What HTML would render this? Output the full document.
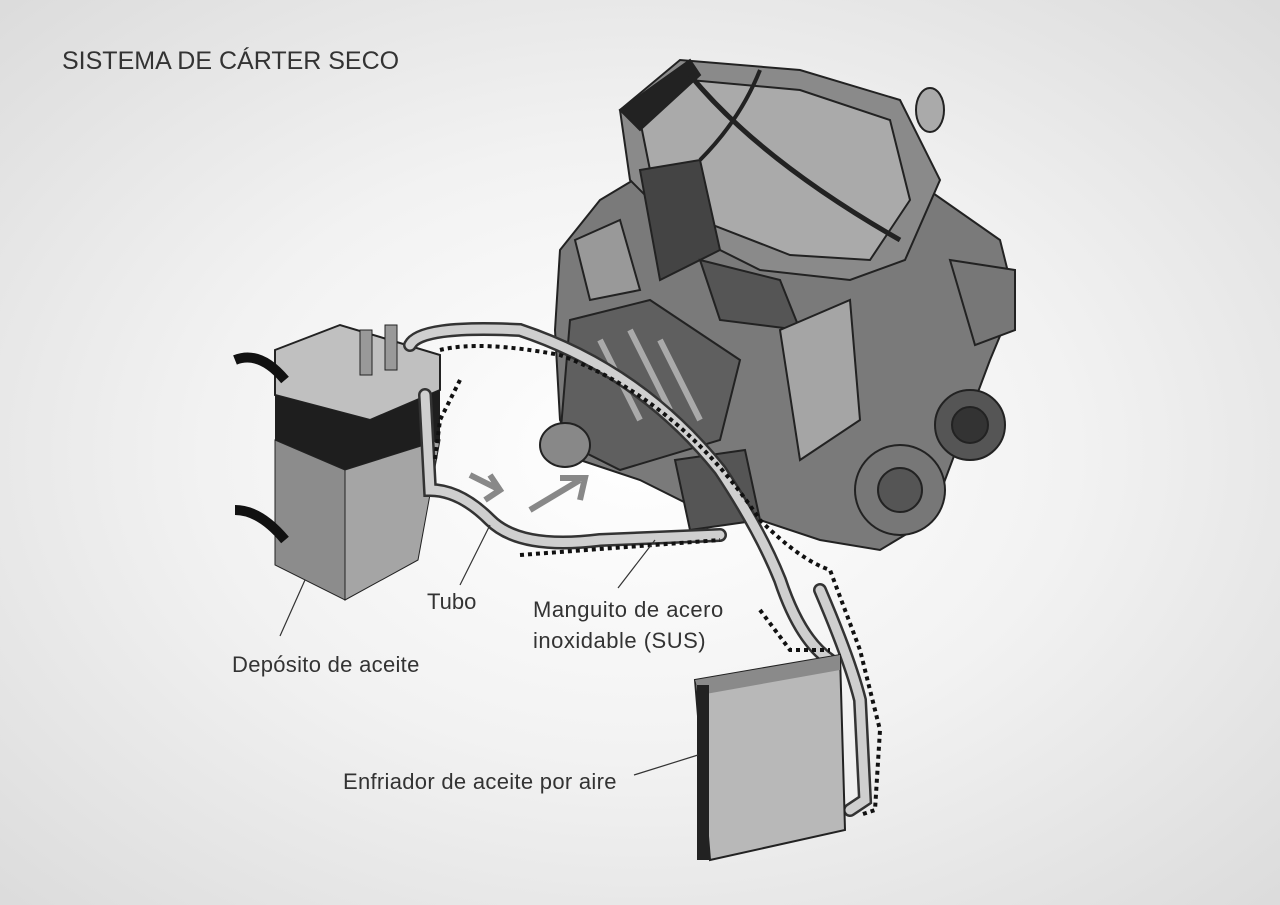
<!DOCTYPE html>
<html><head><meta charset="utf-8"><style>
html,body{margin:0;padding:0}
body{width:1280px;height:905px;overflow:hidden;background:radial-gradient(ellipse 75% 75% at 50% 50%,#ffffff 0%,#f2f2f2 45%,#d9d9d9 100%);font-family:"Liberation Sans",sans-serif;position:relative}
.t{position:absolute;color:#333;font-weight:300;white-space:nowrap}
</style></head><body>
<svg width="1280" height="905" style="position:absolute;left:0;top:0">
<g stroke="#222" stroke-width="2">
<polygon points="560,250 600,200 650,170 760,210 900,170 1000,240 1015,300 990,360 960,440 930,520 880,550 820,540 760,520 700,510 640,480 580,460 560,420 555,330" fill="#7a7a7a"/>
<polygon points="620,110 680,60 800,70 900,100 940,180 905,260 850,280 760,270 680,230 630,180" fill="#8a8a8a"/>
<polygon points="640,120 690,80 800,90 890,120 910,200 870,260 790,255 700,220 650,170" fill="#aaa"/>
<polygon points="620,110 690,60 700,75 640,130" fill="#222"/>
<path d="M690,75 Q760,160 900,240" stroke="#222" stroke-width="5" fill="none"/>
<path d="M760,70 Q740,120 700,160" stroke="#222" stroke-width="4" fill="none"/>
<polygon points="640,170 700,160 720,250 660,280" fill="#444"/>
<ellipse cx="930" cy="110" rx="14" ry="22" fill="#aaa"/>
<polygon points="575,240 620,220 640,290 590,300" fill="#999"/>
<polygon points="700,260 780,280 800,330 720,320" fill="#555"/>
<circle cx="970" cy="425" r="35" fill="#555"/>
<circle cx="970" cy="425" r="18" fill="#333"/>
<circle cx="900" cy="490" r="45" fill="#777"/>
<circle cx="900" cy="490" r="22" fill="#555"/>
<polygon points="950,260 1015,270 1015,330 975,345" fill="#777"/>
<polygon points="780,330 850,300 860,420 800,460" fill="#a5a5a5"/>
<polygon points="570,320 650,300 740,360 720,440 620,470 560,440" fill="#5f5f5f"/>
<path d="M600,340 L640,420 M630,330 L670,410 M660,340 L700,420" stroke="#aaa" stroke-width="6"/>
<ellipse cx="565" cy="445" rx="25" ry="22" fill="#888"/>
<polygon points="675,460 745,450 760,520 690,530" fill="#555"/>
</g>
<polygon points="275,350 340,325 440,355 440,390 370,420 275,395" fill="#c0c0c0" stroke="#222" stroke-width="2"/>
<polygon points="275,395 370,420 440,390 440,440 345,470 275,440" fill="#1e1e1e"/>
<polygon points="275,440 345,470 345,600 275,565" fill="#8c8c8c" stroke="#222"/>
<polygon points="345,470 440,440 418,560 345,600" fill="#a5a5a5" stroke="#222"/>
<rect x="360" y="330" width="12" height="45" fill="#999" stroke="#222"/>
<rect x="385" y="325" width="12" height="45" fill="#999" stroke="#222"/>
<path d="M235,360 Q260,350 285,380" stroke="#111" stroke-width="10" fill="none"/>
<path d="M235,510 Q260,510 285,540" stroke="#111" stroke-width="10" fill="none"/>
<g fill="none" stroke="#333" stroke-width="14" stroke-linecap="round"><path d="M410,345 Q420,325 520,330 Q640,370 720,470 Q760,530 780,580 Q800,640 830,660"/>
<path d="M425,395 L430,490 Q460,490 490,520 Q520,550 600,540 L720,535"/>
<path d="M820,590 Q850,660 860,700 L865,800 L850,810"/></g>
<g fill="none" stroke="#cfcfcf" stroke-width="9" stroke-linecap="round"><path d="M410,345 Q420,325 520,330 Q640,370 720,470 Q760,530 780,580 Q800,640 830,660"/>
<path d="M425,395 L430,490 Q460,490 490,520 Q520,550 600,540 L720,535"/>
<path d="M820,590 Q850,660 860,700 L865,800 L850,810"/></g>
<g fill="none" stroke="#111" stroke-width="4" stroke-dasharray="4,4"><path d="M440,350 Q480,340 560,355 Q680,400 760,520 Q800,560 830,570 L860,650 L880,730 L875,810 L860,815"/>
<path d="M520,555 L720,540"/><path d="M760,610 L790,650 L830,650"/><path d="M460,380 L440,420 L435,460"/></g>
<path d="M530,510 L580,480 M560,478 L585,478 L580,500" stroke="#888" stroke-width="6" fill="none"/>
<path d="M470,475 L500,490 M485,500 L500,490 L490,475" stroke="#888" stroke-width="6" fill="none"/>
<polygon points="695,680 840,655 845,830 710,860" fill="#b8b8b8" stroke="#222" stroke-width="2"/>
<polygon points="695,680 840,655 840,670 700,695" fill="#8a8a8a"/>
<rect x="697" y="685" width="12" height="175" fill="#222"/>
<g stroke="#333" stroke-width="1.2"><line x1="280" y1="636" x2="305" y2="580"/><line x1="460" y1="585" x2="490" y2="525"/><line x1="618" y1="588" x2="655" y2="540"/><line x1="634" y1="775" x2="698" y2="755"/></g>
</svg>
<div class="t" style="left:62px;top:47px;font-size:25px">SISTEMA DE CÁRTER SECO</div>
<div class="t" style="left:427px;top:589px;font-size:22px">Tubo</div>
<div class="t" style="left:533px;top:594px;font-size:22px;line-height:31px;letter-spacing:0.5px">Manguito de acero<br>inoxidable (SUS)</div>
<div class="t" style="left:232px;top:652px;font-size:22px;letter-spacing:0.3px">Depósito de aceite</div>
<div class="t" style="left:343px;top:769px;font-size:22px;letter-spacing:0.3px">Enfriador de aceite por aire</div>
</body></html>
